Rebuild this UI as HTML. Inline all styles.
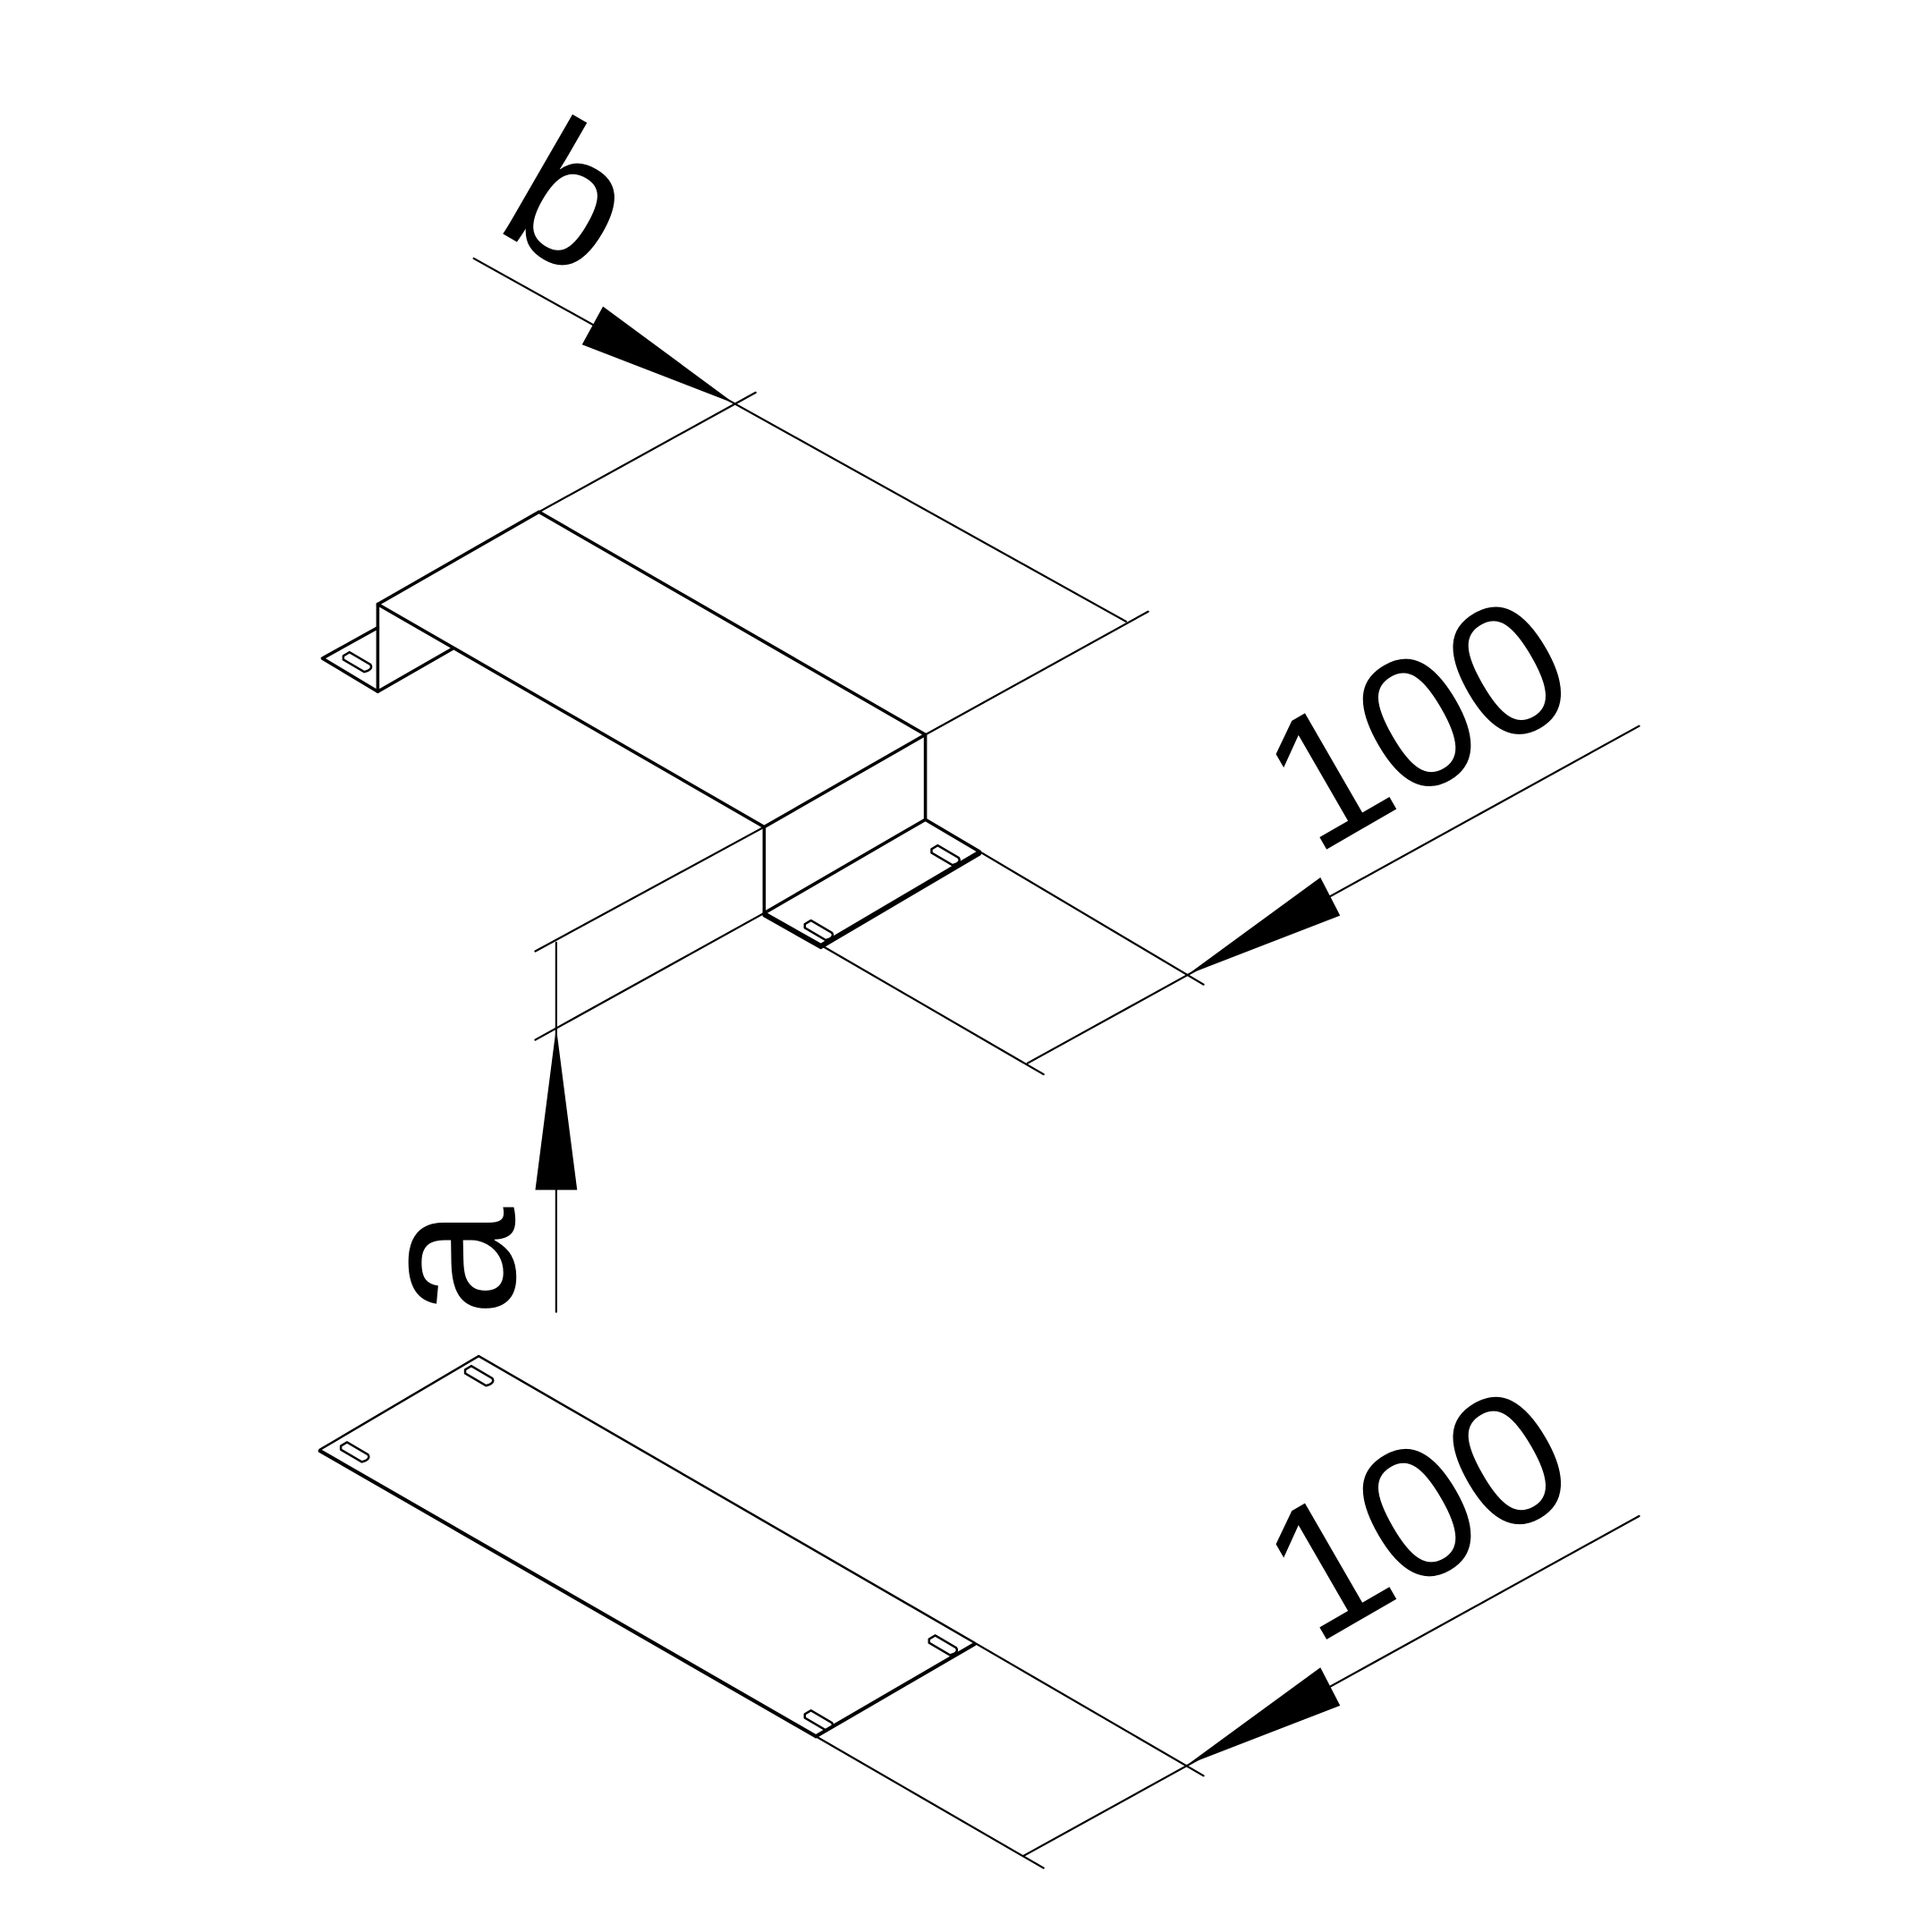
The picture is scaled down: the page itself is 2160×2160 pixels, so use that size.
<!DOCTYPE html>
<html><head><meta charset="utf-8"><style>html,body{margin:0;padding:0;background:#fff}svg{display:block}
.t{font-family:"Liberation Sans",sans-serif;fill:#000}</style></head>
<body>
<svg width="2160" height="2160" viewBox="0 0 1570 1570" xmlns="http://www.w3.org/2000/svg">
<g stroke="#000" fill="none" stroke-linecap="round" stroke-linejoin="round">
<g stroke-width="1.6">
<line x1="385" y1="210" x2="915" y2="505"/>
<line x1="438" y1="416" x2="614" y2="319"/>
<line x1="752" y1="597" x2="933" y2="497"/>
<line x1="621" y1="672" x2="435" y2="773"/>
<line x1="621" y1="742" x2="435" y2="845"/>
<line x1="452" y1="766" x2="452" y2="1066"/>
<line x1="796" y1="692" x2="978" y2="800"/>
<line x1="667" y1="768" x2="848" y2="873"/>
<line x1="835" y1="864" x2="1332" y2="590"/>
<line x1="792" y1="1335" x2="978" y2="1443"/>
<line x1="663" y1="1411" x2="848" y2="1518"/>
<line x1="832" y1="1508" x2="1332" y2="1232"/>
</g>
<g stroke-width="2.6">
<line x1="307" y1="491" x2="438" y2="416"/>
<line x1="438" y1="416" x2="752" y2="597"/>
<line x1="307" y1="491" x2="621" y2="672"/>
<line x1="621" y1="672" x2="752" y2="597"/>
<line x1="307" y1="491" x2="307" y2="562"/>
<line x1="621" y1="672" x2="621" y2="742"/>
<line x1="752" y1="597" x2="752" y2="666"/>
<line x1="307" y1="562" x2="368" y2="527"/>
<polyline points="307,510 262,535 307,562"/>
<line x1="621" y1="742" x2="752" y2="666"/>
<polyline points="621,742 667,768 796,692 752,666"/>
<polyline points="621,744 667,770 796,694"/>
</g>
<g stroke-width="1.8">
<path d="M279,533 l5,-3 l17,10 q2,3 -2,5 l-3,1 l-17,-10 z"/>
<path d="M654,751 l5,-3 l17,10 q2,3 -2,5 l-3,1 l-17,-10 z"/>
<path d="M757,690 l5,-3 l17,10 q2,3 -2,5 l-3,1 l-17,-10 z"/>
</g>
<g stroke-width="1.8">
<line x1="260" y1="1178" x2="389" y2="1102"/>
<line x1="389" y1="1102" x2="792" y2="1335"/>
</g>
<g stroke-width="3">
<line x1="260" y1="1179" x2="663" y2="1411"/>
<line x1="663" y1="1411" x2="792" y2="1336"/>
</g>
<g stroke-width="1.8">
<path d="M277,1175 l5,-3 l17,10 q2,3 -2,5 l-3,1 l-17,-10 z"/>
<path d="M378,1113 l5,-3 l17,10 q2,3 -2,5 l-3,1 l-17,-10 z"/>
<path d="M654,1393 l5,-3 l17,10 q2,3 -2,5 l-3,1 l-17,-10 z"/>
<path d="M755,1332 l5,-3 l17,10 q2,3 -2,5 l-3,1 l-17,-10 z"/>
</g>
</g>
<g fill="#000">
<polygon points="597,328 490,249 473,280"/>
<polygon points="965,792 1073,713 1089,744"/>
<polygon points="965,1434 1073,1355 1089,1386"/>
<polygon points="452,835 435,967 469,967"/>
</g>
<text class="t" font-size="152" transform="translate(1068,696) rotate(-30)">100</text>
<text class="t" font-size="152" transform="translate(1068,1338) rotate(-30)">100</text>
<text class="t" font-size="155" transform="translate(400,185) rotate(30)">b</text>
<text class="t" font-size="160" transform="translate(418,1070) rotate(-90)">a</text>
</svg>
</body></html>
